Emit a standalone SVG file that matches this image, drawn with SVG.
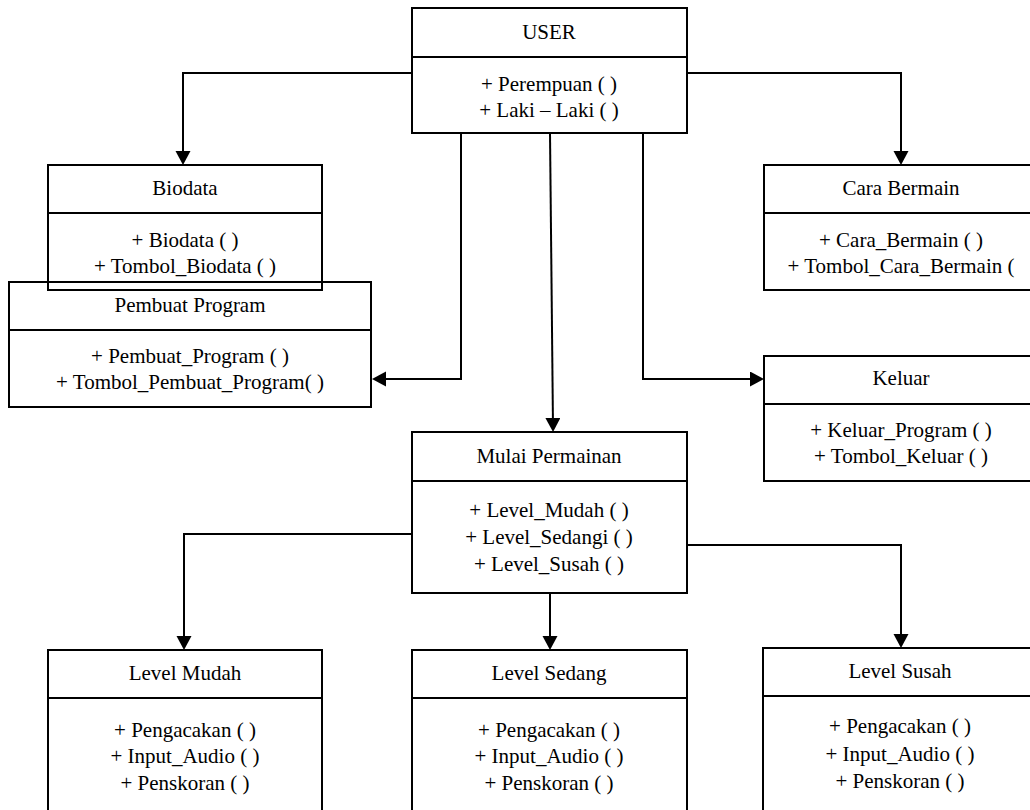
<svg xmlns="http://www.w3.org/2000/svg" width="1030" height="810" viewBox="0 0 1030 810">
  <style>
    .box { fill: none; stroke: #000; stroke-width: 2; }
    .conn { fill: none; stroke: #000; stroke-width: 2; marker-end: url(#arrow); }
    text { font-family: 'Liberation Serif', Tinos, 'Times New Roman', serif; font-size: 21px; fill: #000; text-anchor: middle; }
  </style>
  <defs>
    <marker id="arrow" markerUnits="userSpaceOnUse" markerWidth="15" markerHeight="16" refX="9" refY="7.5" orient="auto">
      <path d="M0,0 L14,7.5 L0,15 Z" fill="#000"/>
    </marker>
  </defs>

  <rect width="1030" height="810" fill="#fff"/>

  <!-- connectors -->
  <g id="connectors">
    <path class="conn" d="M412,73 H183 V160"/>
    <path class="conn" d="M687,73 H901 V160"/>
    <path class="conn" d="M461,133 V379 H377"/>
    <path class="conn" d="M550,133 L553,427"/>
    <path class="conn" d="M643,133 V379 H759"/>
    <path class="conn" d="M412,534 H184 V645"/>
    <path class="conn" d="M550,593 V645"/>
    <path class="conn" d="M687,545 H901 V643"/>
  </g>

  <!-- USER -->
  <g id="user">
    <rect class="box" x="412" y="8" width="275" height="125"/>
    <line class="box" x1="412" y1="57" x2="687" y2="57"/>
    <text x="549" y="39">USER</text>
    <text x="549" y="91">+ Perempuan ( )</text>
    <text x="549" y="117">+ Laki &#x2013; Laki ( )</text>
  </g>

  <!-- Biodata -->
  <g id="biodata">
    <rect class="box" x="48" y="165" width="274" height="125"/>
    <line class="box" x1="48" y1="213" x2="322" y2="213"/>
    <text x="185" y="195">Biodata</text>
    <text x="185" y="247">+ Biodata ( )</text>
    <text x="185" y="273">+ Tombol_Biodata ( )</text>
  </g>

  <!-- Pembuat Program -->
  <g id="pembuat-program">
    <rect class="box" x="9" y="282" width="362" height="125"/>
    <line class="box" x1="9" y1="330" x2="371" y2="330"/>
    <text x="190" y="312">Pembuat Program</text>
    <text x="190" y="363">+ Pembuat_Program ( )</text>
    <text x="190" y="389">+ Tombol_Pembuat_Program( )</text>
  </g>

  <!-- Cara Bermain -->
  <g id="cara-bermain">
    <rect class="box" x="764" y="165" width="275" height="125"/>
    <line class="box" x1="764" y1="213" x2="1039" y2="213"/>
    <text x="901" y="195">Cara Bermain</text>
    <text x="901" y="247">+ Cara_Bermain ( )</text>
    <text x="901" y="273">+ Tombol_Cara_Bermain (</text>
  </g>

  <!-- Keluar -->
  <g id="keluar">
    <rect class="box" x="764" y="356" width="275" height="125"/>
    <line class="box" x1="764" y1="404" x2="1039" y2="404"/>
    <text x="901" y="385">Keluar</text>
    <text x="901" y="437">+ Keluar_Program ( )</text>
    <text x="901" y="463">+ Tombol_Keluar ( )</text>
  </g>

  <!-- Mulai Permainan -->
  <g id="mulai-permainan">
    <rect class="box" x="412" y="432" width="275" height="161"/>
    <line class="box" x1="412" y1="481" x2="687" y2="481"/>
    <text x="549" y="463">Mulai Permainan</text>
    <text x="549" y="517">+ Level_Mudah ( )</text>
    <text x="549" y="544">+ Level_Sedangi ( )</text>
    <text x="549" y="571">+ Level_Susah ( )</text>
  </g>

  <!-- Level Mudah -->
  <g id="level-mudah">
    <rect class="box" x="48" y="650" width="274" height="175"/>
    <line class="box" x1="48" y1="698" x2="322" y2="698"/>
    <text x="185" y="680">Level Mudah</text>
    <text x="185" y="737">+ Pengacakan ( )</text>
    <text x="185" y="763">+ Input_Audio ( )</text>
    <text x="185" y="790">+ Penskoran ( )</text>
  </g>

  <!-- Level Sedang -->
  <g id="level-sedang">
    <rect class="box" x="412" y="650" width="275" height="175"/>
    <line class="box" x1="412" y1="698" x2="687" y2="698"/>
    <text x="549" y="680">Level Sedang</text>
    <text x="549" y="737">+ Pengacakan ( )</text>
    <text x="549" y="763">+ Input_Audio ( )</text>
    <text x="549" y="790">+ Penskoran ( )</text>
  </g>

  <!-- Level Susah -->
  <g id="level-susah">
    <rect class="box" x="763" y="648" width="275" height="175"/>
    <line class="box" x1="763" y1="696" x2="1038" y2="696"/>
    <text x="900" y="678">Level Susah</text>
    <text x="900" y="733">+ Pengacakan ( )</text>
    <text x="900" y="761">+ Input_Audio ( )</text>
    <text x="900" y="788">+ Penskoran ( )</text>
  </g>
</svg>
